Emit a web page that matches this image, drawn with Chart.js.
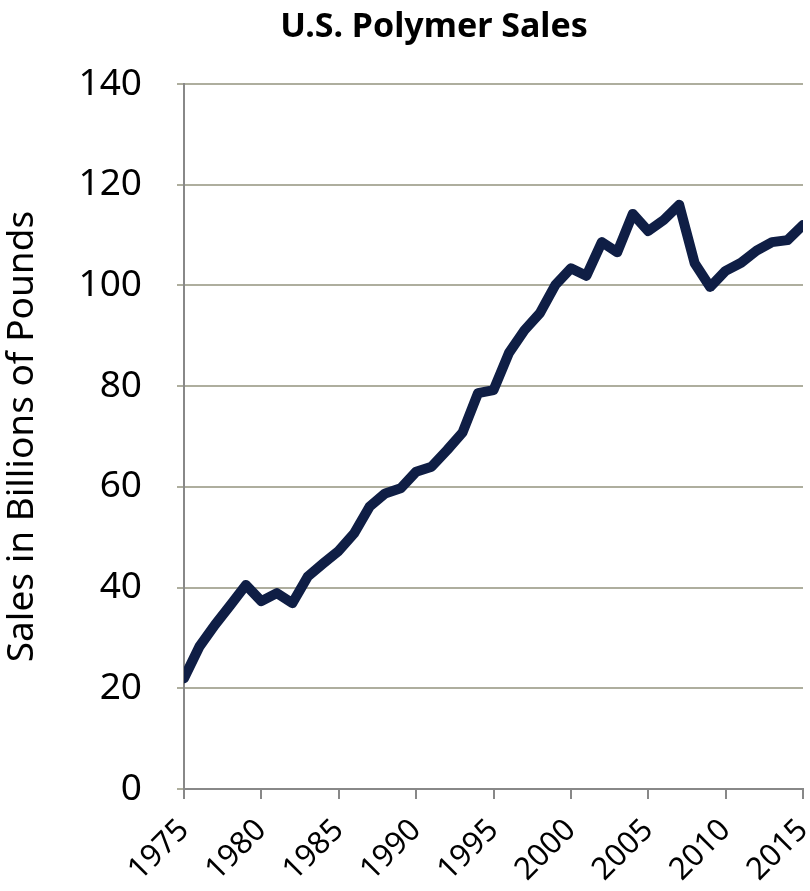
<!DOCTYPE html>
<html>
<head>
<meta charset="utf-8">
<script src="https://cdn.jsdelivr.net/npm/chart.js@4.4.1/dist/chart.umd.min.js"></script>
<style>
  html, body { margin: 0; padding: 0; background: #fff; }
  #wrap { position: relative; width: 810px; height: 891px; }
  #title {
    position: absolute; left: 0; top: 7px; width: 868px; text-align: center;
    font: bold 34px/34px "Noto Sans", sans-serif; color: #000;
  }
</style>
</head>
<body>
<div id="wrap">
  <div id="title">U.S. Polymer Sales</div>
  <canvas id="chart" width="810" height="891"></canvas>
</div>
<script>
// ================= データ =================
const years = [
  1975, 1976, 1977, 1978, 1979, 1980, 1981, 1982, 1983, 1984,
  1985, 1986, 1987, 1988, 1989, 1990, 1991, 1992, 1993, 1994,
  1995, 1996, 1997, 1998, 1999, 2000, 2001, 2002, 2003, 2004,
  2005, 2006, 2007, 2008, 2009, 2010, 2011, 2012, 2013, 2014, 2015
];
const sales = [
  22.0, 28.3, 32.6, 36.5, 40.5, 37.3, 38.9, 36.9, 42.2, 44.8,
  47.3, 50.8, 56.1, 58.7, 59.7, 63.0, 64.0, 67.3, 70.8, 78.6,
  79.2, 86.6, 91.1, 94.5, 100.1, 103.4, 101.9, 108.6, 106.6, 114.2,
  110.8, 113.0, 116.0, 104.4, 99.7, 102.9, 104.5, 106.9, 108.6, 109.0, 112.0
];
const yTicks = [0, 20, 40, 60, 80, 100, 120, 140];
const xTicks = [1975, 1980, 1985, 1990, 1995, 2000, 2005, 2010, 2015];

const FONT = "'Noto Sans', sans-serif";

// ================= グラフ =================
const ctx = document.getElementById("chart");

new Chart(ctx, {
  type: "line",
  data: {
    datasets: [{
      label: "Sales",
      data: years.map((y, i) => ({ x: y, y: sales[i] })),
      borderColor: "#0f1e45",
      borderWidth: 10,
      pointRadius: 0,
      tension: 0,
      borderJoinStyle: "round",
      borderCapStyle: "round"
    }]
  },
  options: {
    responsive: false,
    animation: false,
    layout: { padding: { top: 84, right: 7, left: 0, bottom: 0 } },
    plugins: {
      legend: { display: false },
      tooltip: { enabled: false }
    },
    scales: {
      x: {
        type: "linear",
        min: xTicks[0],
        max: xTicks[xTicks.length - 1],
        afterBuildTicks: s => { s.ticks = xTicks.map(v => ({ value: v })); },
        afterFit: s => {
          s.height = 102;
          s.paddingLeft = 0;
          s.paddingRight = 0;
        },
        border: { color: "#888", width: 2 },
        grid: {
          drawOnChartArea: false,
          drawTicks: true,
          tickLength: 10,
          color: "#888",
          lineWidth: 2
        },
        ticks: {
          minRotation: 45,
          maxRotation: 45,
          padding: 13,
          color: "#000",
          font: { family: FONT, size: 31 },
          callback: v => String(v)
        }
      },
      y: {
        min: 0,
        max: 140,
        afterBuildTicks: s => { s.ticks = yTicks.map(v => ({ value: v })); },
        afterFit: s => { s.width = 184; },
        border: { color: "#888", width: 2 },
        grid: {
          color: "#aeae9e",
          lineWidth: 2,
          tickLength: 7
        },
        ticks: {
          padding: 35,
          color: "#000",
          font: { family: FONT, size: 37 }
        },
        title: {
          display: true,
          text: "Sales in Billions of Pounds",
          color: "#000",
          font: { family: FONT, size: 37 },
          padding: { top: 0, bottom: 0 }
        }
      }
    }
  }
});
</script>
</body>
</html>
